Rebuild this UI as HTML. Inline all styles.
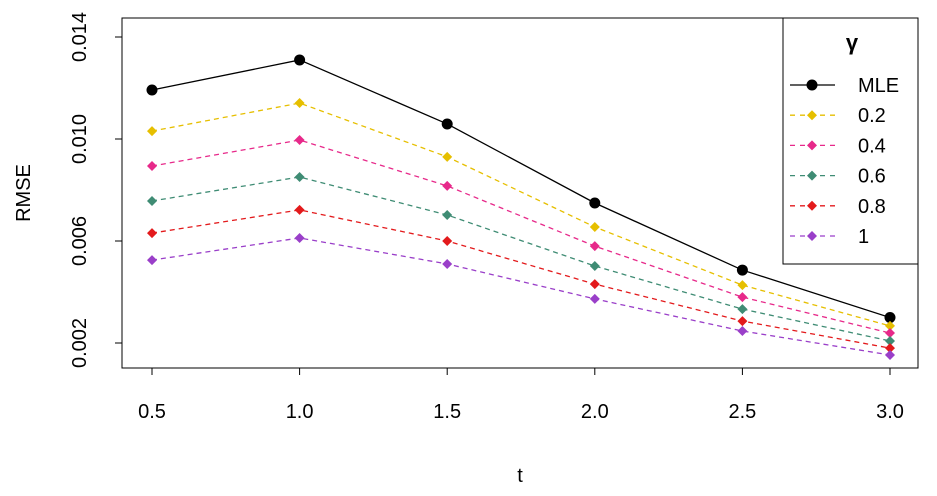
<!DOCTYPE html>
<html><head><meta charset="utf-8"><style>body{margin:0;background:#fff}svg{display:block;font-family:"Liberation Sans",sans-serif}</style></head>
<body>
<svg id="c" width="937" height="496"></svg>
<script>
const xValues=[0.5,1.0,1.5,2.0,2.5,3.0];
const xTicks=["0.5","1.0","1.5","2.0","2.5","3.0"];
const yTicks=[0.002,0.006,0.010,0.014];
const yTickLabels=["0.002","0.006","0.010","0.014"];
const seriesNames=["MLE","0.2","0.4","0.6","0.8","1"];
const seriesColors=["#000000","#E6BF00","#E7298A","#3F8C74","#E31A1C","#9A3FC9"];
const mle=[0.01192,0.0131,0.01059,0.00749,0.00486,0.0030];
const g02=[0.01031,0.01141,0.0093,0.00655,0.00427,0.00267];
const g04=[0.00894,0.00996,0.00816,0.0058,0.0038,0.00239];
const g06=[0.00757,0.00851,0.00702,0.00502,0.00333,0.00208];
const g08=[0.00631,0.00722,0.006,0.00431,0.00286,0.0018];
const g10=[0.00525,0.00612,0.0051,0.00373,0.00247,0.00153];
const series=[mle,g02,g04,g06,g08,g10];
const NS="http://www.w3.org/2000/svg";
const svg=document.getElementById('c');
const X=v=>152+(v-0.5)/2.5*738;
const Y=v=>343-(v-0.002)/0.012*306;
function mk(t,a,p){const e=document.createElementNS(NS,t);for(const k in a)e.setAttribute(k,a[k]);(p||svg).appendChild(e);return e;}
const box=mk('rect',{x:122,y:18,width:796,height:350,fill:'none',stroke:'#000','stroke-width':1});


xValues.forEach((v,i)=>{
 const l=mk('line',{x1:X(v),x2:X(v),y1:368,y2:375,stroke:'#000'});
 
 
 const t=mk('text',{x:X(v),y:418,'font-size':20,'text-anchor':'middle'});t.textContent=xTicks[i];
 
 
});
yTicks.forEach((v,i)=>{
 const l=mk('line',{x1:115,x2:122,y1:Y(v),y2:Y(v),stroke:'#000'});
 
 
 const t=mk('text',{x:0,y:0,'font-size':20,'text-anchor':'middle',transform:`translate(86,${Y(v)}) rotate(-90)`});t.textContent=yTickLabels[i];
 
 
});
const xt=mk('text',{x:520,y:482,'font-size':20,'text-anchor':'middle'});xt.textContent='t';


const yt=mk('text',{x:0,y:0,'font-size':20,'text-anchor':'middle',transform:'translate(30,193) rotate(-90)'});yt.textContent='RMSE';


function marker(g,x,y,i){
 if(i===0){mk('circle',{cx:x,cy:y,r:5.5,fill:'#000'},g);}
 else{mk('polygon',{points:`${x},${y-5} ${x+5},${y} ${x},${y+5} ${x-5},${y}`,fill:seriesColors[i]},g);}
}
series.forEach((s,i)=>{
 const g=mk('g',{});
 
 
 mk('polyline',{points:s.map((v,j)=>X(xValues[j])+','+Y(v)).join(' '),fill:'none',stroke:seriesColors[i],'stroke-width':1.3,'stroke-dasharray':i?'5,4':'none'},g);
 s.forEach((v,j)=>marker(g,X(xValues[j]),Y(v),i));
});
const lg=mk('g',{});


mk('rect',{x:783,y:18,width:135,height:246,fill:'#fff',stroke:'#000'},lg);
const lt=mk('text',{x:852,y:50,'font-size':22,'font-weight':'bold','text-anchor':'middle'},lg);lt.textContent='γ';
seriesNames.forEach((n,i)=>{
 const y=85+i*30.2;
 const e=mk('g',{},lg);
 
 
 mk('line',{x1:790,x2:835,y1:y,y2:y,stroke:seriesColors[i],'stroke-width':1.3,'stroke-dasharray':i?'5,5':'none'},e);
 marker(e,812,y,i);
 const t=mk('text',{x:858,y:y+7,'font-size':20},e);t.textContent=n;
});
</script>
</body></html>
